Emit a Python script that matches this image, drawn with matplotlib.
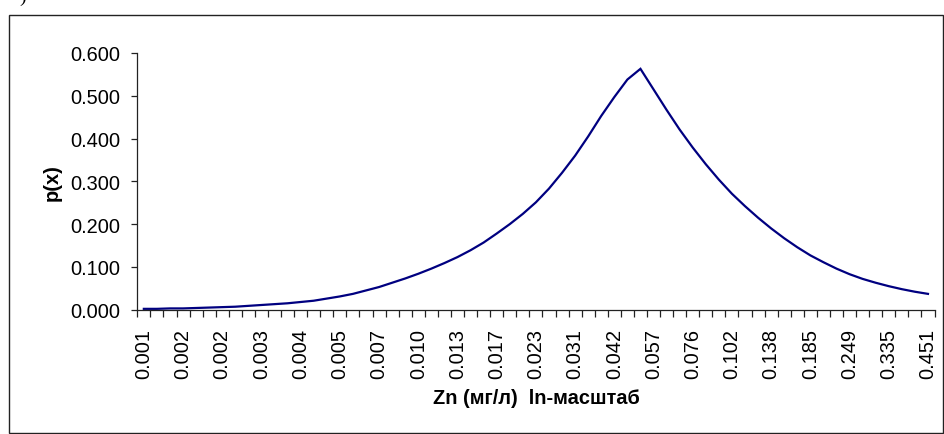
import matplotlib
matplotlib.use("Agg")
import matplotlib.pyplot as plt
from matplotlib.patches import Rectangle
from matplotlib.ticker import FormatStrFormatter, FixedLocator

plt.rcParams['font.family'] = ['Liberation Sans', 'DejaVu Sans']

# p(x) values for 61 ln-scale categories of Zn concentration (mg/l)
p_values = [
    0.002, 0.002, 0.003, 0.003, 0.004, 0.005, 0.006, 0.007, 0.009, 0.011,
    0.013, 0.015, 0.018, 0.021, 0.026, 0.031, 0.037, 0.045, 0.053, 0.063,
    0.073, 0.084, 0.096, 0.109, 0.123, 0.139, 0.157, 0.178, 0.200, 0.224,
    0.251, 0.283, 0.320, 0.360, 0.405, 0.453, 0.497, 0.538, 0.563, 0.515,
    0.467, 0.421, 0.379, 0.340, 0.304, 0.271, 0.242, 0.215, 0.190, 0.167,
    0.146, 0.127, 0.111, 0.096, 0.083, 0.072, 0.063, 0.055, 0.048, 0.042,
    0.037,
]
# labels shown on every 3rd category
tick_labels = [
    "0.001", "0.002", "0.002", "0.003", "0.004", "0.005", "0.007", "0.010",
    "0.013", "0.017", "0.023", "0.031", "0.042", "0.057", "0.076", "0.102",
    "0.138", "0.185", "0.249", "0.335", "0.451",
]
label_step = 3
y_ticks = [0.0, 0.1, 0.2, 0.3, 0.4, 0.5, 0.6]

W, H = 944, 435
fig = plt.figure(figsize=(W / 100, H / 100), dpi=100)

ax_l, ax_r, ax_b, ax_t = 137.3, 934.5, 310.7, 54.0
ax = fig.add_axes([ax_l / W, 1 - ax_b / H, (ax_r - ax_l) / W, (ax_b - ax_t) / H])

n = len(p_values)
x = list(range(n))
ax.plot(x, p_values, color='#000080', lw=1.6, solid_joinstyle='miter')

ax.set_xlim(-0.5, n - 0.5)
ax.set_ylim(min(y_ticks), max(y_ticks))

for s in ['top', 'right']:
    ax.spines[s].set_visible(False)
for s in ['left', 'bottom']:
    ax.spines[s].set_color('#222222')
    ax.spines[s].set_linewidth(0.9)

ax.set_yticks(y_ticks)
ax.yaxis.set_major_formatter(FormatStrFormatter('%.3f'))
ax.tick_params(axis='y', direction='out', length=4, width=0.9, color='#222222',
               labelsize=14.4, pad=8.5)

# category boundaries as tick marks, labels at every 3rd category centre
ax.set_xticks([i * label_step for i in range(len(tick_labels))])
ax.set_xticklabels(tick_labels, rotation=90, ha='center', va='top')
ax.xaxis.set_minor_locator(FixedLocator([i - 0.5 for i in range(n + 1)]))
ax.tick_params(axis='x', which='major', length=0, labelsize=14.4, pad=13)
ax.tick_params(axis='x', which='minor', direction='out', length=5, width=0.9,
               color='#222222')

ax.set_xlabel("Zn (мг/л)  ln-масштаб", fontsize=14.4, fontweight='bold', va='center')
ax.xaxis.set_label_coords(0.5, -(399 - ax_b) / (ax_b - ax_t))
ax.set_ylabel("p(x)", fontsize=14.4, fontweight='bold', va='center')
ax.yaxis.set_label_coords(-(ax_l - 52) / (ax_r - ax_l), 0.5)

# outer chart border
fig.patches.append(Rectangle((8.5 / W, 0.8 / H), (942.5 - 8.5) / W, (H - 15.5 - 0.8) / H,
                             transform=fig.transFigure, fill=False, lw=1.0,
                             ec='#222222'))
# cut-off panel label at the very top
fig.text(19 / W, 1 - 1.5 / H, ")", fontsize=14, family='Liberation Serif',
         va='baseline', ha='left')

fig.savefig("out.png", dpi=100)
